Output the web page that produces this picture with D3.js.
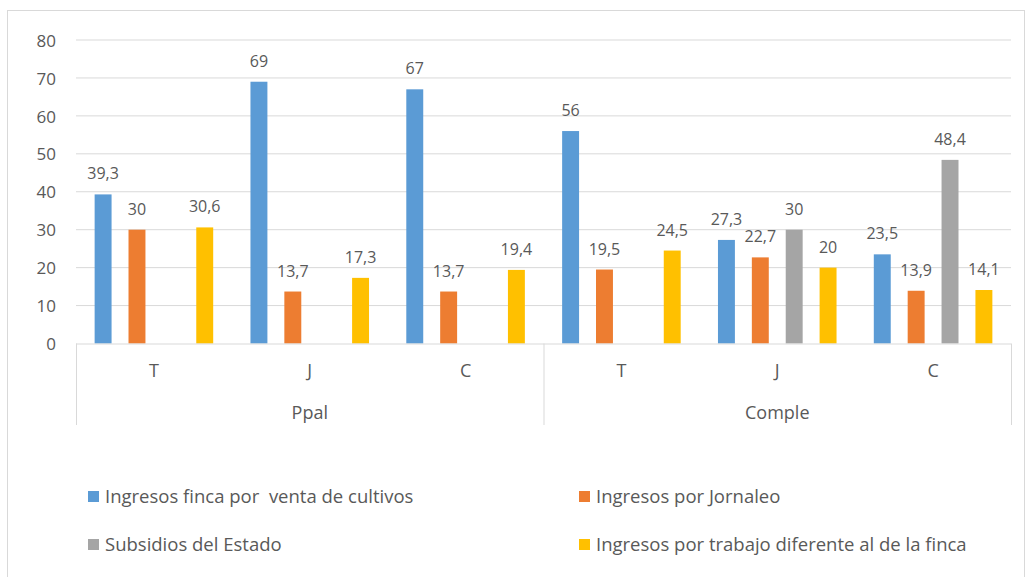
<!DOCTYPE html>
<html><head><meta charset="utf-8">
<script src="https://cdn.jsdelivr.net/npm/d3@7"></script>
<style>body{margin:0;background:#fff}svg{display:block}text{font-family:"Open Sans","Liberation Sans",sans-serif;fill:#595959}</style>
</head><body><svg id="c" width="1032" height="577"></svg>
<script>
const groups = ["Ppal","Comple"];
const subcats = ["T","J","C"];
const seriesNames = ["Ingresos finca por  venta de cultivos","Ingresos por Jornaleo","Subsidios del Estado","Ingresos por trabajo diferente al de la finca"];
const colors = ["#5B9BD5","#ED7D31","#A5A5A5","#FFC000"];
const ventaCultivos = [39.3,69,67,56,27.3,23.5];
const jornaleo = [30,13.7,13.7,19.5,22.7,13.9];
const subsidios = [null,null,null,null,30,48.4];
const otroTrabajo = [30.6,17.3,19.4,24.5,20,14.1];
const yTicks = [0,10,20,30,40,50,60,70,80];

const series = [ventaCultivos,jornaleo,subsidios,otroTrabajo];
const cats = [];
groups.forEach(g=>subcats.forEach(s=>cats.push(g+"|"+s)));

const svg = d3.select("#c");
svg.append("rect").attr("x",7.5).attr("y",10.5).attr("width",1017).attr("height",580).attr("fill","none").attr("stroke","#d9d9d9");

const L=76,R=1011,T=40,B=343.5;
const x = d3.scaleBand().domain(cats).range([L,R]);
const y = d3.scaleLinear().domain([0,80]).range([B,T]);
const bw = x.bandwidth()/9.2;
const off = (x.bandwidth()-7*bw)/2;

// gridlines
svg.append("g").selectAll("line").data(yTicks.filter(d=>d>0)).join("line")
 .attr("x1",L).attr("x2",R).attr("y1",d=>y(d)).attr("y2",d=>y(d)).attr("stroke","#d9d9d9").attr("stroke-width",1);
// y labels
const yAxis = d3.axisLeft(y).tickValues(yTicks).tickSize(0).tickPadding(0).tickFormat(d3.format("d"));
const ya = svg.append("g").attr("transform",`translate(${L-20},0)`).call(yAxis);
ya.select(".domain").remove();
ya.selectAll("text").attr("font-size",17).attr("fill","#595959").attr("dy","0.36em").style("font-family",'"Open Sans","Liberation Sans",sans-serif');

// bars
series.forEach((vals,si)=>{
  const g = svg.append("g");
  cats.forEach((c,i)=>{
    const v = vals[i];
    if(v==null) return;
    const bx = x(c)+off+si*2*bw;
    g.append("rect").attr("x",bx).attr("width",bw).attr("y",y(v)).attr("height",y(0)-y(v)).attr("fill",colors[si]);
    g.append("text").attr("x",bx+bw/2).attr("y",y(v)-15).attr("text-anchor","middle").attr("font-size",16)
      .text(String(v).replace(".",","));
  });
});

// x axis line
svg.append("line").attr("x1",L).attr("x2",R).attr("y1",B+0.5).attr("y2",B+0.5).attr("stroke","#d9d9d9");
// separators
const sepX = [L, x(cats[3]), R];
svg.append("g").selectAll("line").data(sepX).join("line")
 .attr("x1",d=>d+0.5).attr("x2",d=>d+0.5).attr("y1",B).attr("y2",425).attr("stroke","#d9d9d9");
// subcategory labels
svg.append("g").selectAll("text").data(cats).join("text")
 .attr("x",c=>x(c)+x.bandwidth()/2).attr("y",377).attr("text-anchor","middle").attr("font-size",18)
 .text(c=>c.split("|")[1]);
// group labels
svg.append("g").selectAll("text").data(groups).join("text")
 .attr("x",(g,i)=>(x(cats[i*3])+x(cats[i*3+2])+x.bandwidth())/2).attr("y",419).attr("text-anchor","middle").attr("font-size",18)
 .text(g=>g);

// legend
const legPos = [[88,497],[579,497],[88,545],[579,545]];
seriesNames.forEach((n,i)=>{
  const [lx,ly]=legPos[i];
  svg.append("rect").attr("x",lx).attr("y",ly-6).attr("width",11).attr("height",11).attr("fill",colors[i]);
  svg.append("text").attr("x",lx+17).attr("y",ly).attr("dy","0.35em").attr("font-size",18.5).attr("xml:space","preserve").style("white-space","pre").text(n);
});
</script></body></html>
